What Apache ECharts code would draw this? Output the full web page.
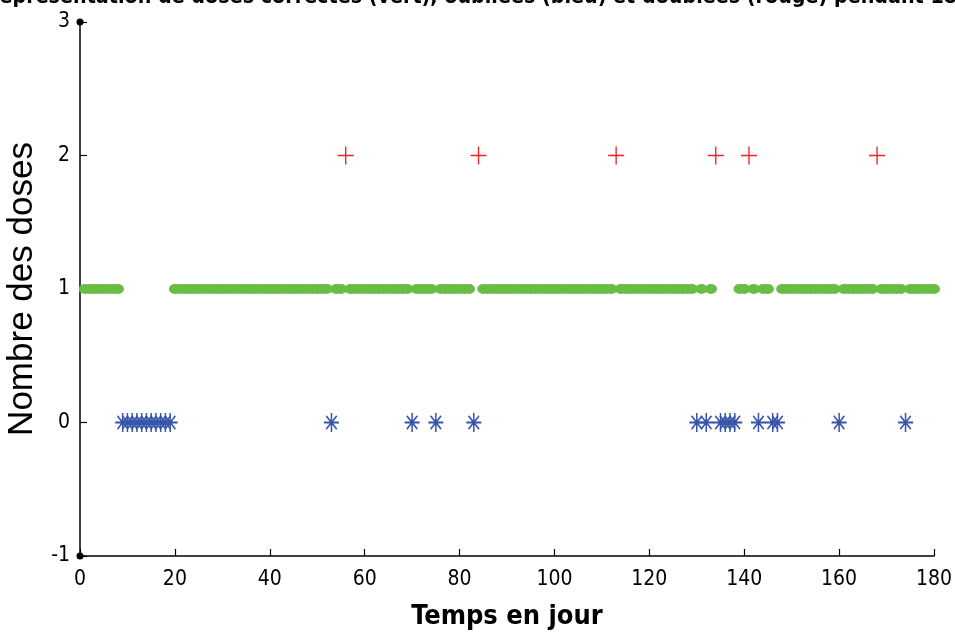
<!DOCTYPE html>
<html>
<head>
<meta charset="utf-8">
<script src="https://cdn.jsdelivr.net/npm/echarts@6/dist/echarts.min.js"></script>
<style>
  html, body { margin: 0; padding: 0; background: #fff; }
  #chart { width: 955px; height: 635px; }
</style>
</head>
<body>
<div id="chart"></div>
<script>
// Days on which exactly one dose was taken (correct)
const greenDays = [
  1, 2, 3, 4, 5, 6, 7, 8,
  20, 21, 22, 23, 24, 25, 26, 27, 28, 29, 30, 31, 32, 33, 34, 35, 36, 37, 38, 39,
  40, 41, 42, 43, 44, 45, 46, 47, 48, 49, 50, 51, 52,
  54, 55,
  57, 58, 59, 60, 61, 62, 63, 64, 65, 66, 67, 68, 69,
  71, 72, 73, 74,
  76, 77, 78, 79, 80, 81, 82,
  85, 86, 87, 88, 89, 90, 91, 92, 93, 94, 95, 96, 97, 98, 99, 100, 101, 102, 103,
  104, 105, 106, 107, 108, 109, 110, 111, 112,
  114, 115, 116, 117, 118, 119, 120, 121, 122, 123, 124, 125, 126, 127, 128, 129,
  131, 133,
  139, 140,
  142,
  144, 145,
  148, 149, 150, 151, 152, 153, 154, 155, 156, 157, 158, 159,
  161, 162, 163, 164, 165, 166, 167,
  169, 170, 171, 172, 173,
  175, 176, 177, 178, 179, 180
];
// Days on which the dose was forgotten
const blueDays = [
  9, 10, 11, 12, 13, 14, 15, 16, 17, 18, 19,
  53, 70, 75, 83,
  130, 132, 135, 136, 137, 138, 143, 146, 147, 160, 174
];
// Days on which the dose was doubled
const redDays = [56, 84, 113, 134, 141, 168];

// Number of doses for each group
const greenDose = 1;
const blueDose = 0;
const redDose = 2;

const xTicks = { min: 0, max: 180, step: 20 };
const yTicks = { min: -1, max: 3, step: 1 };

const titleText = 'Représentation de doses correctes (vert), oubliées (bleu) et doublées (rouge) pendant 180 jours';
const xName = 'Temps en jour';
const yName = 'Nombre des doses';

const narrow = '"Liberation Sans Narrow", "DejaVu Sans Condensed", "Liberation Sans", Arial, sans-serif';

const toPoints = (days, level) => days.map(d => [d, level]);

const chart = echarts.init(document.getElementById('chart'), null, { renderer: 'canvas' });

chart.setOption({
  animation: false,
  backgroundColor: '#ffffff',
  graphic: [{
    type: 'text',
    x: 508,
    y: -13,
    style: {
      text: titleText,
      fill: '#000',
      font: 'bold 21.3px ' + narrow,
      textAlign: 'center'
    }
  }],
  grid: { left: 80, right: 21, top: 22, bottom: 79, containLabel: false, outerBoundsMode: 'none' },
  xAxis: {
    type: 'value',
    min: xTicks.min,
    max: xTicks.max,
    interval: xTicks.step,
    name: xName,
    nameLocation: 'middle',
    nameGap: 47,
    nameTextStyle: { fontFamily: narrow, fontSize: 27, fontWeight: 'bold', color: '#000' },
    axisLine: { onZero: false, lineStyle: { color: '#000', width: 1.5 } },
    axisTick: { inside: true, length: 7, lineStyle: { color: '#000', width: 1.2 } },
    axisLabel: { margin: 13, fontFamily: narrow, fontSize: 21, color: '#000' },
    splitLine: { show: false }
  },
  yAxis: {
    type: 'value',
    min: yTicks.min,
    max: yTicks.max,
    interval: yTicks.step,
    name: yName,
    nameLocation: 'middle',
    nameGap: 40,
    nameTextStyle: { fontFamily: '"Liberation Sans", Arial, sans-serif', fontSize: 35, color: '#000' },
    axisLine: {
      onZero: false,
      symbol: ['circle', 'circle'],
      symbolSize: [7, 7],
      lineStyle: { color: '#000', width: 1.5 }
    },
    axisTick: { inside: true, length: 7, lineStyle: { color: '#000', width: 1.2 } },
    axisLabel: { margin: 10, fontFamily: narrow, fontSize: 21, color: '#000' },
    splitLine: { show: false }
  },
  series: [
    {
      name: 'correctes',
      type: 'scatter',
      data: toPoints(greenDays, greenDose),
      symbol: 'circle',
      symbolSize: [12, 10],
      itemStyle: { color: '#69bd45', opacity: 1 },
      z: 2
    },
    {
      name: 'oubliées',
      type: 'scatter',
      data: toPoints(blueDays, blueDose),
      symbol: 'path://M0,-10L0,10M-10,0L10,0M-7,-7L7,7M-7,7L7,-7',
      symbolSize: [15, 19],
      itemStyle: { color: 'rgba(0,0,0,0)', borderColor: '#3655a8', borderWidth: 1.7, opacity: 1 },
      z: 3
    },
    {
      name: 'doublées',
      type: 'scatter',
      data: toPoints(redDays, redDose),
      symbol: 'path://M0,-10L0,10M-10,0L10,0',
      symbolSize: [16, 18],
      itemStyle: { color: 'rgba(0,0,0,0)', borderColor: '#ee2024', borderWidth: 1.4, opacity: 1 },
      z: 3
    }
  ]
});
</script>
</body>
</html>
